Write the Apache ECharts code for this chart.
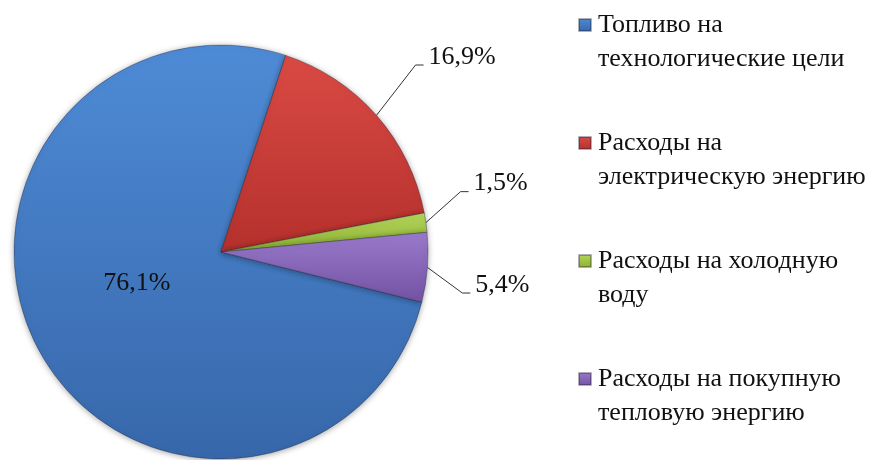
<!DOCTYPE html>
<html>
<head>
<meta charset="utf-8">
<script src="https://cdn.jsdelivr.net/npm/echarts@6/dist/echarts.min.js"></script>
<style>
  html, body { margin: 0; padding: 0; background: #fff; }
  #chart { width: 873px; height: 460px; }
</style>
</head>
<body>
<div id="chart"></div>
<script>
// data
const categories = [
  'Топливо на\nтехнологические цели',
  'Расходы на\nэлектрическую энергию',
  'Расходы на холодную\nводу',
  'Расходы на покупную\nтепловую энергию'
]
const values = [76.1, 16.9, 1.5, 5.4]
const colors = [
  ['#4E8BD6', '#3767AA'],
  ['#DA4A44', '#B5302C'],
  ['#B4D65A', '#8CB032'],
  ['#9A7ACB', '#7352A3']
]

// label tweaks: [dx, dy] per slice, and how far under the text the leader line sits
const labelShift = [[9, -20], [0, -24], [0, -34], [0, 15]]
const lineDrop = 8

const fmt = v => String(v).replace('.', ',') + '%'

const chart = echarts.init(document.getElementById('chart'))

chart.setOption({
  animation: false,
  legend: {
    orient: 'vertical',
    left: 578,
    top: -26,
    padding: 0,
    itemWidth: 12,
    itemHeight: 12,
    itemGap: 16,
    icon: 'rect',
    data: categories,
    // empty first line so the icon sits level with the first text line
    formatter: name => '\n' + name,
    textStyle: {
      fontFamily: 'Liberation Serif',
      fontSize: 26,
      lineHeight: 34,
      color: '#111',
      padding: [0, 0, 0, 2]
    }
  },
  series: [
    {
      type: 'pie',
      center: [221, 252],
      radius: 207,
      startAngle: -14,
      clockwise: true,
      avoidLabelOverlap: false,
      itemStyle: {
        borderColor: 'rgba(30,30,50,0.35)',
        borderWidth: 1,
        shadowBlur: 6,
        shadowColor: 'rgba(0,0,0,0.35)',
        shadowOffsetY: 1
      },
      label: {
        formatter: p => fmt(p.value),
        fontFamily: 'Liberation Serif',
        fontSize: 26,
        color: '#111'
      },
      labelLine: {
        length: 35,
        length2: 8,
        lineStyle: { color: '#333', width: 1 }
      },
      labelLayout: function (params) {
        const s = labelShift[params.dataIndex]
        const out = { dx: s[0], dy: s[1] }
        const pts = params.labelLinePoints
        if (pts) {
          const d = s[1] + lineDrop
          out.labelLinePoints = [
            pts[0],
            [pts[1][0], pts[1][1] + d],
            [pts[2][0], pts[2][1] + d]
          ]
        }
        return out
      },
      data: categories.map((name, i) => {
        const item = {
          name: name,
          value: values[i],
          itemStyle: {
            color: new echarts.graphic.LinearGradient(0, 0, 0, 1, [
              { offset: 0, color: colors[i][0] },
              { offset: 1, color: colors[i][1] }
            ])
          }
        }
        if (i === 0) item.label = { position: 'inside' }
        if (i === 1) item.labelLine = { length: 52, length2: 8 }
        return item
      })
    }
  ]
})
</script>
</body>
</html>
